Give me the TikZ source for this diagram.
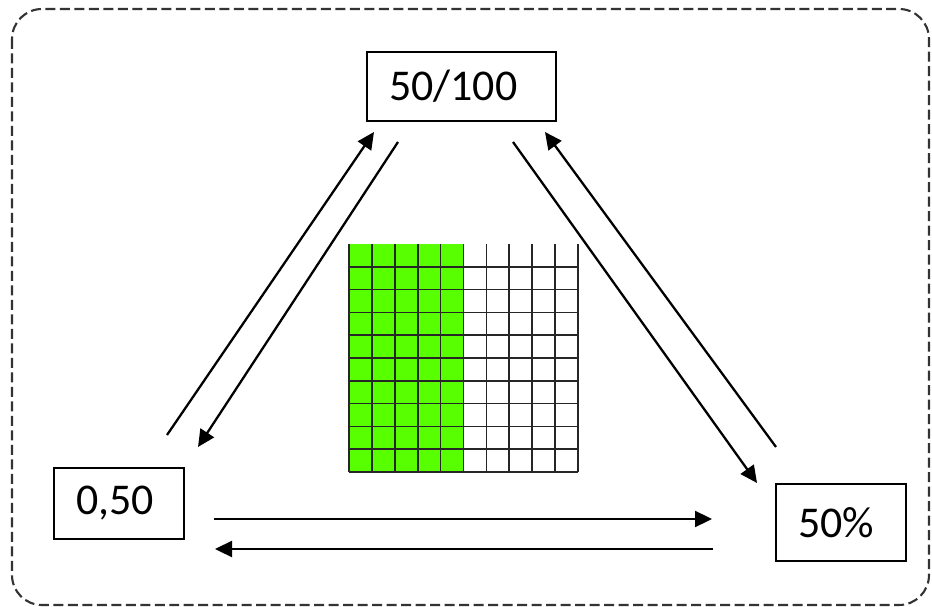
\documentclass[tikz,border=0pt]{standalone}
\usepackage{fontspec}
\setmainfont{Carlito}
\usepackage{tikz}
\usetikzlibrary{positioning, calc, arrows.meta}
\definecolor{FracGreen}{HTML}{58FF00}
\definecolor{FrameGray}{HTML}{333333}
\tikzset{
  valbox/.style={draw, line width=1.2pt, inner xsep=0.44cm, align=left,
    font=\fontsize{25}{30}\selectfont},
  convarrow/.style={line width=1.3pt, -{Triangle[length=0.34cm, width=0.32cm]}}
}

\begin{document}
\begin{tikzpicture}[x=0.02cm, y=-0.02cm]
      \useasboundingbox (0,0) rectangle (932,607);
      %% Dashed frame
      \draw[FrameGray, line width=1.2pt, dash pattern=on 0.2cm off 0.09cm,
            rounded corners=0.6cm] (12,9) rectangle (929,605);
      %% Hundred grid, half shaded
      \fill[FracGreen] (349,244) rectangle (463.5,472);
      \foreach \i in {0,...,10}
        \draw[black!85, line width=1pt] (349+\i*22.9,244) -- (349+\i*22.9,472);
      \foreach \j in {1,...,10}
        \draw[black!85, line width=1pt] (349,244+\j*22.8) -- (578,244+\j*22.8);
      %% Value boxes
      \node[valbox, minimum height=1.38cm, text width=2.9cm] (frac) at (461.5,86.5) {50/100};
      \node[valbox, minimum height=1.42cm, text width=1.72cm] (dec) at (119,503.5) {0,50};
      \node[valbox, minimum height=1.54cm, text width=1.72cm] (pct) at (841,522.5) {50\%};
      %% Arrow ends
      \coordinate (decUpS) at (167,435);
      \coordinate (decUpE) at (374,132);
      \coordinate (fracDnS) at (398,142);
      \coordinate (fracDnE) at (198,447);
      \coordinate (fracRtS) at (513,142);
      \coordinate (fracRtE) at (757,483);
      \coordinate (pctUpS) at (776,447);
      \coordinate (pctUpE) at (545,132);
      \coordinate (decRtS) at (214,519);
      \coordinate (decRtE) at (712,519);
      \coordinate (pctLtS) at (713,549);
      \coordinate (pctLtE) at (215,549);
      %% Conversions
      \draw[convarrow] (decUpS) -- (decUpE);
      \draw[convarrow] (fracDnS) -- (fracDnE);
      \draw[convarrow] (fracRtS) -- (fracRtE);
      \draw[convarrow] (pctUpS) -- (pctUpE);
      \draw[convarrow] (decRtS) -- (decRtE);
      \draw[convarrow] (pctLtS) -- (pctLtE);
\end{tikzpicture}
\end{document}
